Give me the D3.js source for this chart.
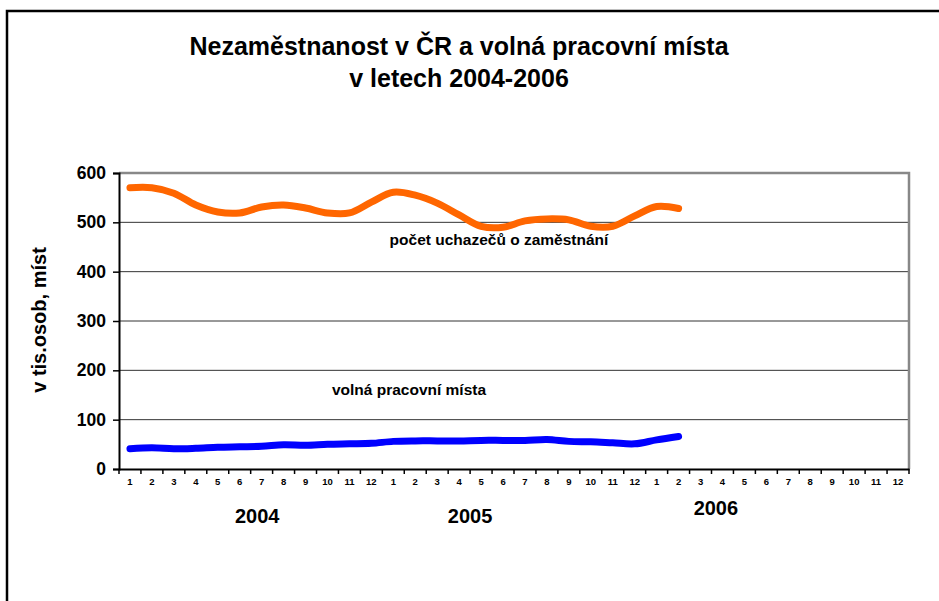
<!DOCTYPE html>
<html>
<head>
<meta charset="utf-8">
<script src="https://cdn.jsdelivr.net/npm/d3@7"></script>
<style>
  body { margin: 0; background: #fff; }
  svg { display: block; font-family: Arial, "Liberation Sans", sans-serif; }
</style>
</head>
<body>
<svg></svg>
<script>
const width = 939;
const height = 601;

const years = ['2004', '2005', '2006'];
const months = ['1','2','3','4','5','6','7','8','9','10','11','12'];

// počet uchazečů o zaměstnání (tis.), 2004-01 .. 2006-02
const applicants = [570, 570, 559, 535, 521, 519, 531, 535, 529, 519, 519, 541,
                    561, 555, 539, 515, 492, 490, 503, 507, 505, 492, 492, 513,
                    532, 528];
// volná pracovní místa (tis.)
const vacancies = [41, 43, 41, 42, 44, 45, 46, 49, 48, 50, 51, 52,
                   56, 57, 57, 57, 58, 58, 58, 60, 56, 55, 53, 51,
                   59, 66];
const yTicks = [0, 100, 200, 300, 400, 500, 600];

const categories = [];
years.forEach(y => months.forEach(m => categories.push(y + '-' + m)));

const plot = { left: 119, right: 909, top: 173, bottom: 469 };

const svg = d3.select('svg')
  .attr('width', width)
  .attr('height', height);

// frame round the whole chart (open to the right and bottom, as in the screenshot)
svg.append('rect')
  .attr('x', 7).attr('y', 11)
  .attr('width', 960).attr('height', 620)
  .attr('fill', 'none')
  .attr('stroke', '#000')
  .attr('stroke-width', 2.5);

const xScale = d3.scaleBand()
  .domain(categories)
  .range([plot.left, plot.right]);

const yScale = d3.scaleLinear()
  .domain([0, 600])
  .range([plot.bottom, plot.top]);

// ====================================
// Gridlines
// ====================================
svg.append('g')
  .selectAll('line')
  .data(yTicks.filter(d => d > 0 && d < 600))
  .enter()
  .append('line')
  .attr('x1', plot.left).attr('x2', plot.right)
  .attr('y1', d => yScale(d)).attr('y2', d => yScale(d))
  .attr('stroke', '#333')
  .attr('stroke-width', 1);

// top and right edge of plot area
svg.append('path')
  .attr('d', `M${plot.left},${plot.top}H${plot.right}V${plot.bottom}`)
  .attr('fill', 'none')
  .attr('stroke', '#888')
  .attr('stroke-width', 2.5);

// ====================================
// Axes
// ====================================
const yAxis = d3.axisLeft(yScale)
  .tickValues(yTicks)
  .tickSize(6)
  .tickPadding(7);

const yG = svg.append('g')
  .attr('transform', `translate(${plot.left}, 0)`)
  .call(yAxis);
yG.select('.domain').attr('stroke', '#000').attr('stroke-width', 2);
yG.selectAll('.tick line').attr('stroke', '#000').attr('stroke-width', 1.5);
yG.selectAll('.tick text')
  .attr('font-size', 17.5)
  .attr('font-weight', 'bold')
  .attr('font-family', 'Arial, "Liberation Sans", sans-serif')
  .attr('fill', '#000');

const xAxis = d3.axisBottom(xScale)
  .tickFormat(d => d.split('-')[1])
  .tickSize(0)
  .tickPadding(9);

const xG = svg.append('g')
  .attr('transform', `translate(0, ${plot.bottom})`)
  .call(xAxis);
xG.select('.domain').attr('stroke', '#000').attr('stroke-width', 2);
xG.selectAll('.tick text')
  .attr('font-size', 9.5)
  .attr('font-weight', 'bold')
  .attr('font-family', 'Arial, "Liberation Sans", sans-serif')
  .attr('fill', '#000');

// tick marks between categories
xG.selectAll('.sep')
  .data(categories.concat(['end']))
  .enter()
  .append('line')
  .attr('class', 'sep')
  .attr('x1', (d, i) => plot.left + i * xScale.step())
  .attr('x2', (d, i) => plot.left + i * xScale.step())
  .attr('y1', 0).attr('y2', 5)
  .attr('stroke', '#000')
  .attr('stroke-width', 1.5);

// year labels (placed in band steps from the left of the plot, as in the original)
const yearPos = [6.3, 16.0, 27.2];
const yearY = [523, 523, 515];
svg.append('g')
  .selectAll('text')
  .data(years)
  .enter()
  .append('text')
  .attr('x', (d, i) => plot.left + yearPos[i] * xScale.step())
  .attr('y', (d, i) => yearY[i])
  .attr('text-anchor', 'middle')
  .attr('font-size', 20)
  .attr('font-weight', 'bold')
  .text(d => d);

// ====================================
// Lines
// ====================================
const line = d3.line()
  .x((d, i) => xScale(categories[i]) + xScale.bandwidth() / 2)
  .y(d => yScale(d))
  .curve(d3.curveCatmullRom.alpha(0.5));

svg.append('path')
  .datum(applicants)
  .attr('d', line)
  .attr('fill', 'none')
  .attr('stroke', '#FF6600')
  .attr('stroke-width', 7)
  .attr('stroke-linecap', 'round')
  .attr('stroke-linejoin', 'round');

svg.append('path')
  .datum(vacancies)
  .attr('d', line)
  .attr('fill', 'none')
  .attr('stroke', '#0000FF')
  .attr('stroke-width', 7)
  .attr('stroke-linecap', 'round')
  .attr('stroke-linejoin', 'round');

// ====================================
// Labels
// ====================================
svg.append('text')
  .attr('x', 499).attr('y', 245)
  .attr('text-anchor', 'middle')
  .attr('font-size', 15.5)
  .attr('font-weight', 'bold')
  .text('počet uchazečů o zaměstnání');

svg.append('text')
  .attr('x', 409).attr('y', 395)
  .attr('text-anchor', 'middle')
  .attr('font-size', 15.5)
  .attr('font-weight', 'bold')
  .text('volná pracovní místa');

svg.append('text')
  .attr('transform', 'translate(46, 320) rotate(-90)')
  .attr('text-anchor', 'middle')
  .attr('font-size', 20)
  .attr('font-weight', 'bold')
  .text('v tis.osob, míst');

// ====================================
// Title
// ====================================
svg.append('text')
  .attr('x', 459).attr('y', 55)
  .attr('text-anchor', 'middle')
  .attr('font-size', 25)
  .attr('font-weight', 'bold')
  .text('Nezaměstnanost v ČR a volná pracovní místa');

svg.append('text')
  .attr('x', 459).attr('y', 87)
  .attr('text-anchor', 'middle')
  .attr('font-size', 25)
  .attr('font-weight', 'bold')
  .text('v letech 2004-2006');
</script>
</body>
</html>
